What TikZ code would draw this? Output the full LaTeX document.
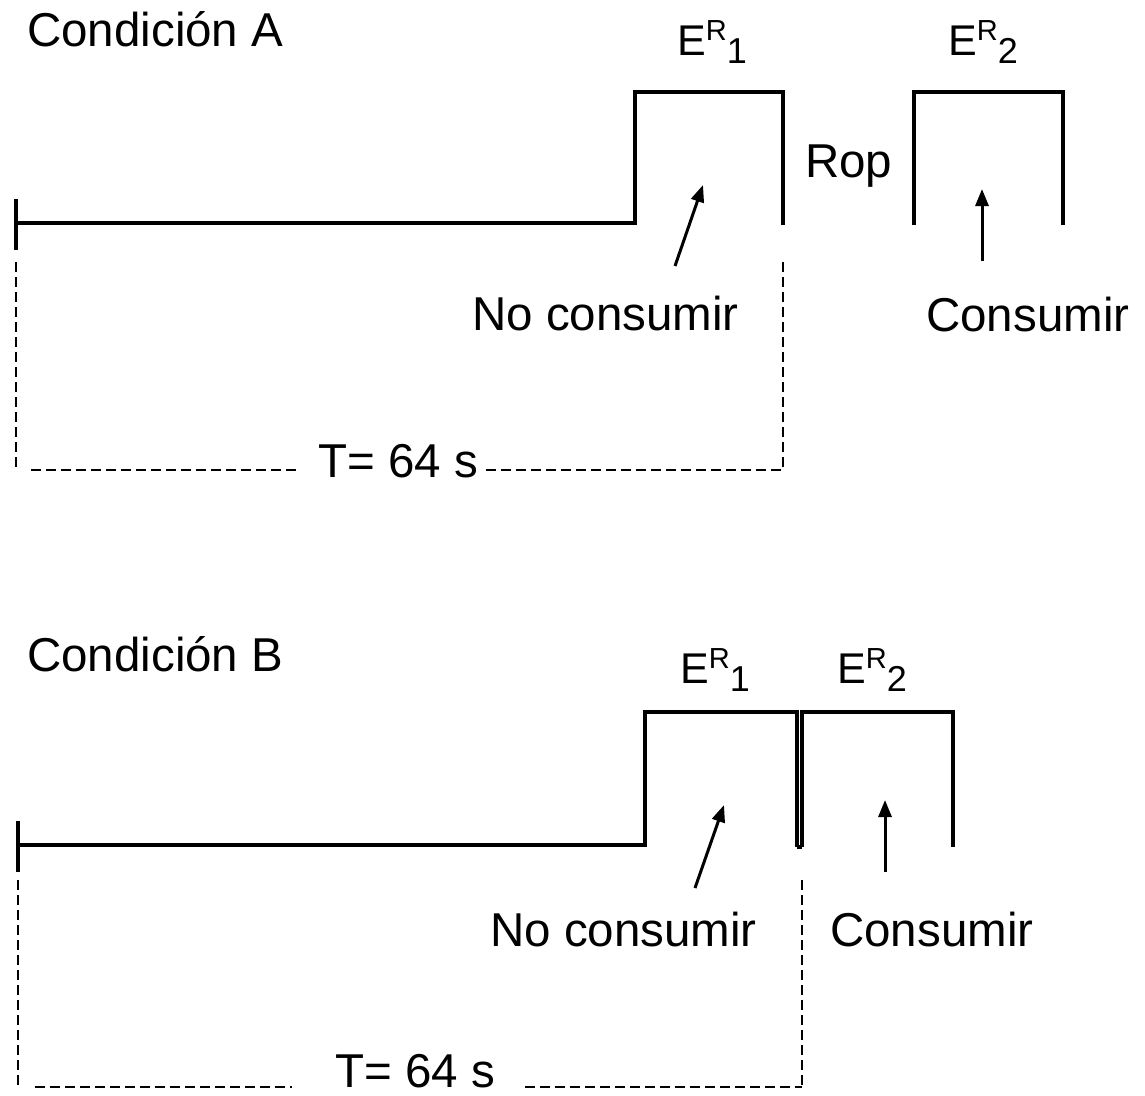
\documentclass[tikz,border=0pt]{standalone}
\usepackage{fontspec}
\setmainfont{Liberation Sans}
\usetikzlibrary{arrows.meta}
\newcommand{\ER}[1]{E\raisebox{15pt}{\fontsize{29}{29}\selectfont R}\raisebox{-8pt}{\fontsize{36}{36}\selectfont #1}}
\begin{document}
\begin{tikzpicture}[x=1pt,y=-1pt,
  txt/.style={inner sep=0pt,anchor=base west,font=\fontsize{47.5}{50}\selectfont},
  etxt/.style={inner sep=0pt,anchor=base west,font=\fontsize{43}{46}\selectfont},
  trace/.style={line width=4.3pt,line join=miter,line cap=butt},
  guide/.style={line width=2.4pt,dash pattern=on 10pt off 5pt},
  pointer/.style={line width=3pt,-{Triangle[length=17pt,width=13pt]}}]
\useasboundingbox (0,0) rectangle (1145,1095);
% ---------------- Condicion A ----------------
\node[txt] (titA) at (27,46) {Condición A};
\node[etxt] (erA1) at (677,55) {\ER{1}};
\node[etxt] (erA2) at (948,55) {\ER{2}};
\node[txt] (rop) at (805,177) {Rop};
\node[txt] (ncA) at (472,330) {No consumir};
\node[txt] (cA) at (926,331) {Consumir};
\node[txt] (tA) at (318,477) {T= 64 s};
\coordinate (a0) at (16,223);
\coordinate (a0t) at (16,199);
\coordinate (a0b) at (16,250);
\coordinate (a1) at (635,223);
\coordinate (a2) at (635,92);
\coordinate (a3) at (783,92);
\coordinate (a4) at (783,225);
\coordinate (b1) at (914,225);
\coordinate (b2) at (914,92);
\coordinate (b3) at (1063,92);
\coordinate (b4) at (1063,225);
\draw[trace] (a0t) -- (a0b);
\draw[trace] (a0) -- (a1) -- (a2) -- (a3) -- (a4);
\draw[trace] (b1) -- (b2) -- (b3) -- (b4);
\coordinate (pA1s) at (675,266);
\coordinate (pA1e) at (703,185);
\coordinate (pA2s) at (982,261);
\coordinate (pA2e) at (982,189);
\draw[pointer] (pA1s) -- (pA1e);
\draw[pointer] (pA2s) -- (pA2e);
\coordinate (dAl) at (16,262);
\coordinate (dAr) at (783,262);
\coordinate (dAbl) at (16,470);
\coordinate (dAbr) at (783,470);
\draw[guide] (dAl) -- (dAbl);
\draw[guide] (dAr) -- (dAbr);
\draw[guide] (31,470) -- (297,470);
\draw[guide] (486,470) -- (dAbr);
% ---------------- Condicion B ----------------
\node[txt] (titB) at (27,671) {Condición B};
\node[etxt] (erB1) at (680,683) {\ER{1}};
\node[etxt] (erB2) at (837,683) {\ER{2}};
\node[txt] (ncB) at (490,946) {No consumir};
\node[txt] (cB) at (830,946) {Consumir};
\node[txt] (tB) at (335,1087) {T= 64 s};
\coordinate (c0) at (18,845);
\coordinate (c0t) at (18,821);
\coordinate (c0b) at (18,872);
\coordinate (c1) at (645,845);
\coordinate (c2) at (645,712);
\coordinate (c3) at (797,712);
\coordinate (c4) at (797,847);
\coordinate (d1) at (802,847);
\coordinate (d2) at (802,712);
\coordinate (d3) at (953,712);
\coordinate (d4) at (953,847);
\draw[trace] (c0t) -- (c0b);
\draw[trace] (c0) -- (c1) -- (c2) -- (c3) -- (c4);
\draw[trace] (d1) -- (d2) -- (d3) -- (d4);
\draw[line width=4.3pt] (c4) -- (d1);
\coordinate (pB1s) at (695,888);
\coordinate (pB1e) at (724,805);
\coordinate (pB2s) at (885,872);
\coordinate (pB2e) at (885,800);
\draw[pointer] (pB1s) -- (pB1e);
\draw[pointer] (pB2s) -- (pB2e);
\coordinate (dBl) at (18,880);
\coordinate (dBr) at (802,880);
\coordinate (dBbl) at (18,1087);
\coordinate (dBbr) at (802,1087);
\draw[guide] (dBl) -- (dBbl);
\draw[guide] (dBr) -- (dBbr);
\draw[guide] (35,1087) -- (292,1087);
\draw[guide] (525,1087) -- (dBbr);
\end{tikzpicture}
\end{document}
